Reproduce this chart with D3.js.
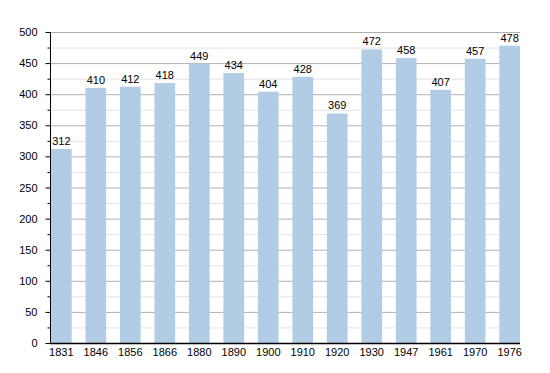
<!DOCTYPE html>
<html lang="en">
<head>
<meta charset="UTF-8">
<title>Population</title>
<style>
    body { margin: 0; background: #fff; font-family: "Liberation Sans", Arial, Helvetica, sans-serif; }
    .label { font-size: 11px; fill: #000; }
</style>
</head>
<body>
<svg id="chart" width="550" height="373"></svg>
<script src="https://d3js.org/d3.v7.min.js"></script>
<script>
    var years = ["1831", "1846", "1856", "1866", "1880", "1890", "1900", "1910", "1920", "1930", "1947", "1961", "1970", "1976"];
    var population = [312, 410, 412, 418, 449, 434, 404, 428, 369, 472, 458, 407, 457, 478];
    var yMajorTicks = [0, 50, 100, 150, 200, 250, 300, 350, 400, 450, 500];
    var yMinorTicks = [25, 75, 125, 175, 225, 275, 325, 375, 425, 475];

    var svg = d3.select("#chart");
    var plotLeft = 50, plotRight = 520, plotTop = 32, plotBottom = 343;

    var x = d3.scaleBand().domain(years).range([plotLeft + 1, plotRight])
        .paddingInner(0.4).paddingOuter(0);
    var y = d3.scaleLinear().domain([0, 500]).range([plotBottom, plotTop]);

    // minor grid
    svg.append("g").selectAll("line").data(yMinorTicks).join("line")
        .attr("x1", plotLeft).attr("x2", plotRight)
        .attr("y1", function (d) { return y(d) + 0.5; })
        .attr("y2", function (d) { return y(d) + 0.5; })
        .attr("stroke", "#e2e2e2").attr("stroke-width", 1);

    // major grid
    svg.append("g").selectAll("line").data(yMajorTicks.slice(1)).join("line")
        .attr("x1", plotLeft).attr("x2", plotRight)
        .attr("y1", function (d) { return y(d) + 0.5; })
        .attr("y2", function (d) { return y(d) + 0.5; })
        .attr("stroke", "#b0b0b0").attr("stroke-width", 1);

    // bars
    svg.append("g").selectAll("rect").data(population).join("rect")
        .attr("x", function (d, i) { return x(years[i]); })
        .attr("width", x.bandwidth())
        .attr("y", function (d) { return y(d); })
        .attr("height", function (d) { return y(0) - y(d); })
        .attr("fill", "#b3cce6");

    // value labels
    svg.append("g").selectAll("text").data(population).join("text")
        .attr("class", "label")
        .attr("text-anchor", "middle")
        .attr("x", function (d, i) { return x(years[i]) + x.bandwidth() / 2; })
        .attr("y", function (d) { return y(d) - 4; })
        .text(function (d) { return d; });

    // y axis
    var yAxis = d3.axisLeft(y).tickValues(yMajorTicks).tickSize(5).tickPadding(8);
    var gy = svg.append("g").attr("transform", "translate(" + (plotLeft + 0.5) + ",0)").call(yAxis);
    gy.select(".domain").remove();
    gy.selectAll("text").attr("class", "label").attr("font-family", null).attr("font-size", null);
    gy.append("line").attr("x1", 0).attr("x2", 0).attr("y1", plotTop).attr("y2", plotBottom).attr("stroke", "#000");
    gy.selectAll(".minor").data(yMinorTicks).join("line")
        .attr("class", "minor")
        .attr("x1", -3).attr("x2", 0)
        .attr("y1", function (d) { return y(d) + 0.5; })
        .attr("y2", function (d) { return y(d) + 0.5; })
        .attr("stroke", "#000");

    // x axis
    var xAxis = d3.axisBottom(x).tickSize(0).tickPadding(5);
    var gx = svg.append("g").attr("transform", "translate(0," + (plotBottom + 0.5) + ")").call(xAxis);
    gx.select(".domain").remove();
    gx.selectAll("text").attr("class", "label").attr("font-family", null).attr("font-size", null);
    gx.append("line").attr("x1", plotLeft).attr("x2", plotRight).attr("stroke", "#000").attr("stroke-width", 1.5);
</script>
</body>
</html>
